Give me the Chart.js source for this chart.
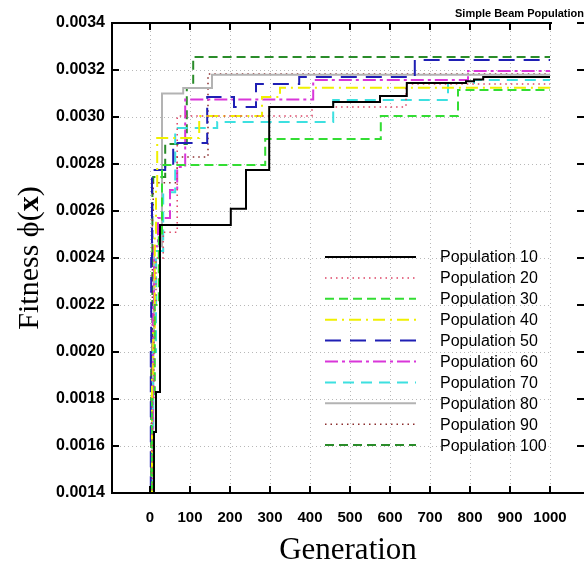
<!DOCTYPE html>
<html>
<head>
<meta charset="utf-8">
<title>Simple Beam Population</title>
<script src="https://cdn.jsdelivr.net/npm/chart.js@4.4.0/dist/chart.umd.min.js"></script>
<style>
  html, body { margin:0; padding:0; background:#fff; }
  #wrap { width:584px; height:568px; position:relative; }
</style>
</head>
<body>
<div id="wrap"><canvas id="fit"></canvas></div>
<script>
// tick labels
const xTicks = [0,100,200,300,400,500,600,700,800,900,1000];
const yTicks = [0.0014,0.0016,0.0018,0.0020,0.0022,0.0024,0.0026,0.0028,0.0030,0.0032,0.0034];

// generation where best fitness changes -> new fitness
const pop10Gen  = [10, 10, 15, 25, 202, 240, 298, 458, 575, 642, 790, 810, 833, 1000];
const pop10Fit  = [0.0013, 0.00166, 0.00183, 0.00254, 0.00261, 0.002775, 0.003043, 0.003064, 0.003089, 0.003145, 0.003152, 0.00316, 0.00317, 0.00317];
const pop20Gen  = [3, 6, 10, 15, 33, 68, 405, 640, 1000];
const pop20Fit  = [0.0013, 0.0018, 0.0022, 0.0024, 0.00251, 0.003004, 0.003043, 0.00314, 0.00314];
const pop30Gen  = [0, 5, 12, 22, 30, 288, 577, 770, 1000];
const pop30Fit  = [0.0013, 0.0018, 0.0022, 0.0025, 0.002796, 0.002906, 0.003004, 0.003115, 0.003115];
const pop40Gen  = [2, 5, 8, 12, 15, 18, 123, 280, 325, 1000];
const pop40Fit  = [0.0013, 0.0019, 0.0021, 0.0025, 0.0027, 0.002911, 0.003004, 0.003085, 0.003125, 0.003125];
const pop50Gen  = [0, 2, 3, 5, 8, 38, 58, 143, 210, 265, 373, 662, 1000];
const pop50Fit  = [0.0013, 0.0020, 0.0024, 0.002745, 0.002774, 0.002796, 0.002889, 0.003085, 0.003043, 0.00314, 0.00317, 0.003243, 0.003243];
const pop60Gen  = [3, 7, 10, 20, 50, 68, 88, 408, 795, 1000];
const pop60Fit  = [0.0013, 0.0022, 0.00245, 0.00257, 0.002689, 0.002787, 0.003074, 0.003157, 0.003196, 0.003196];
const pop70Gen  = [3, 8, 15, 33, 63, 168, 458, 745, 810, 1000];
const pop70Fit  = [0.0013, 0.0020, 0.00243, 0.00268, 0.002953, 0.002979, 0.003072, 0.003145, 0.003157, 0.003157];
const pop80Gen  = [5, 8, 10, 30, 83, 155, 1000];
const pop80Fit  = [0.0013, 0.0020, 0.00245, 0.0031, 0.003123, 0.00318, 0.00318];
const pop90Gen  = [2, 4, 6, 8, 68, 145, 1000];
const pop90Fit  = [0.0013, 0.0020, 0.0026, 0.00272, 0.00283, 0.003183, 0.003183];
const pop100Gen = [0, 3, 6, 8, 38, 92, 108, 1000];
const pop100Fit = [0.0013, 0.0020, 0.0027, 0.002745, 0.002885, 0.003123, 0.003255, 0.003255];

const series = [
  { label:'Population 10',  gen:pop10Gen,  fit:pop10Fit,  color:'#000000', width:2,   dash:[] },
  { label:'Population 20',  gen:pop20Gen,  fit:pop20Fit,  color:'#dd4466', width:1.5, dash:[1.5,4] },
  { label:'Population 30',  gen:pop30Gen,  fit:pop30Fit,  color:'#33dd33', width:2,   dash:[9,5] },
  { label:'Population 40',  gen:pop40Gen,  fit:pop40Fit,  color:'#f0f000', width:2,   dash:[12,5,2,5] },
  { label:'Population 50',  gen:pop50Gen,  fit:pop50Fit,  color:'#1f1fb4', width:2,   dash:[16,9] },
  { label:'Population 60',  gen:pop60Gen,  fit:pop60Fit,  color:'#d936d9', width:2,   dash:[13,4,3,4] },
  { label:'Population 70',  gen:pop70Gen,  fit:pop70Fit,  color:'#3de0e0', width:2,   dash:[11,7] },
  { label:'Population 80',  gen:pop80Gen,  fit:pop80Fit,  color:'#b3b3b3', width:2,   dash:[] },
  { label:'Population 90',  gen:pop90Gen,  fit:pop90Fit,  color:'#8b2e2e', width:1.5, dash:[1.5,4] },
  { label:'Population 100', gen:pop100Gen, fit:pop100Fit, color:'#2a8c2a', width:2,   dash:[9,5] },
];

function line(ctx, x1, y1, x2, y2){
  ctx.beginPath(); ctx.moveTo(x1, y1); ctx.lineTo(x2, y2); ctx.stroke();
}

// dotted grid (only up to gen 1000), frame with inward ticks
const framePlugin = {
  id: 'frame',
  beforeDatasetsDraw(chart){
    const ctx = chart.ctx, a = chart.chartArea, xs = chart.scales.x, ys = chart.scales.y;
    const xEnd = xs.getPixelForValue(xTicks[xTicks.length-1]);
    ctx.save();
    ctx.strokeStyle = '#b8b8b8'; ctx.lineWidth = 1; ctx.setLineDash([1,3]);
    for(const v of xTicks){ const px = Math.round(xs.getPixelForValue(v)) + 0.5; line(ctx, px, a.top, px, a.bottom); }
    for(const v of yTicks){ const py = Math.round(ys.getPixelForValue(v)) + 0.5; line(ctx, a.left, py, xEnd, py); }
    ctx.restore();
  },
  afterDatasetsDraw(chart){
    const ctx = chart.ctx, a = chart.chartArea, xs = chart.scales.x, ys = chart.scales.y;
    const xEnd = xs.getPixelForValue(xTicks[xTicks.length-1]);
    ctx.save();
    ctx.strokeStyle = '#000'; ctx.lineWidth = 2; ctx.setLineDash([]);
    line(ctx, a.left, a.top - 1, a.left, a.bottom + 1);
    line(ctx, a.left - 1, a.bottom, a.right, a.bottom);
    line(ctx, a.left - 1, a.top, xEnd + 2, a.top);
    for(const v of xTicks){
      const px = Math.round(xs.getPixelForValue(v));
      line(ctx, px, a.bottom, px, a.bottom - 7);
      line(ctx, px, a.top, px, a.top + 7);
    }
    for(const v of yTicks){
      const py = Math.round(ys.getPixelForValue(v));
      line(ctx, a.left, py, a.left + 7, py);
      line(ctx, a.right, py, a.right - 7, py);
    }

    // legend inside the plot
    ctx.font = '16px "Liberation Sans", Arial, sans-serif';
    ctx.fillStyle = '#000'; ctx.textBaseline = 'middle'; ctx.textAlign = 'left';
    chart.data.datasets.forEach((ds, i) => {
      const y = a.top + 234 + i * 20.9;
      ctx.strokeStyle = ds.borderColor; ctx.lineWidth = ds.borderWidth; ctx.setLineDash(ds.borderDash);
      line(ctx, a.left + 213, y, a.left + 304, y);
      ctx.fillText(ds.label, a.left + 328, y + 1);
    });
    ctx.setLineDash([]);

    // titles
    ctx.font = 'bold 11px "Liberation Sans", Arial, sans-serif';
    ctx.textAlign = 'right';
    ctx.fillText('Simple Beam Population', chart.width, 14);

    ctx.font = '31px "Liberation Serif", "Times New Roman", serif';
    ctx.textAlign = 'center';
    ctx.fillText('Generation', (a.left + a.right) / 2, 551);

    // rotated y title with bold x
    const parts = [['Fitness \u03D5(', '30px "Liberation Serif", "DejaVu Serif", serif'],
                   ['x', 'bold 30px "Liberation Serif", serif'],
                   [')', '30px "Liberation Serif", serif']];
    let total = 0;
    for(const p of parts){ ctx.font = p[1]; total += ctx.measureText(p[0]).width; }
    ctx.translate(30, (a.top + a.bottom) / 2);
    ctx.rotate(-Math.PI / 2);
    ctx.textAlign = 'left';
    let cx = -total / 2;
    for(const p of parts){ ctx.font = p[1]; ctx.fillText(p[0], cx, 0); cx += ctx.measureText(p[0]).width; }
    ctx.restore();
  }
};

new Chart(document.getElementById('fit'), {
  type: 'line',
  data: {
    datasets: series.map(s => ({
      label: s.label,
      data: s.gen.map((g, i) => ({ x: g, y: s.fit[i] })),
      borderColor: s.color,
      backgroundColor: s.color,
      borderWidth: s.width,
      borderDash: s.dash,
      stepped: 'before',
      pointRadius: 0,
      fill: false,
    }))
  },
  options: {
    responsive: true,
    maintainAspectRatio: false,
    animation: false,
    layout: { padding: { top: 23, right: 0, left: 0, bottom: 0 } },
    plugins: { legend: { display: false }, tooltip: { enabled: false } },
    scales: {
      x: {
        type: 'linear', min: -95, max: 1085,
        afterBuildTicks: sc => { sc.ticks = xTicks.map(v => ({ value: v })); },
        afterFit: sc => { sc.height = 75; },
        grid: { display: false, drawTicks: false },
        border: { display: false },
        ticks: { color: '#000', padding: 16, autoSkip: false, maxRotation: 0, callback: v => String(v),
                 font: { family: '"Liberation Sans", Arial, sans-serif', size: 15, weight: 'bold' } }
      },
      y: {
        type: 'linear', min: 0.0014, max: 0.0034,
        afterBuildTicks: sc => { sc.ticks = yTicks.map(v => ({ value: v })); },
        afterFit: sc => { sc.width = 112; },
        grid: { display: false, drawTicks: false },
        border: { display: false },
        ticks: { color: '#000', padding: 7, callback: v => v.toFixed(4),
                 font: { family: '"Liberation Sans", Arial, sans-serif', size: 16, weight: 'bold' } }
      }
    }
  },
  plugins: [framePlugin]
});
</script>
</body>
</html>
